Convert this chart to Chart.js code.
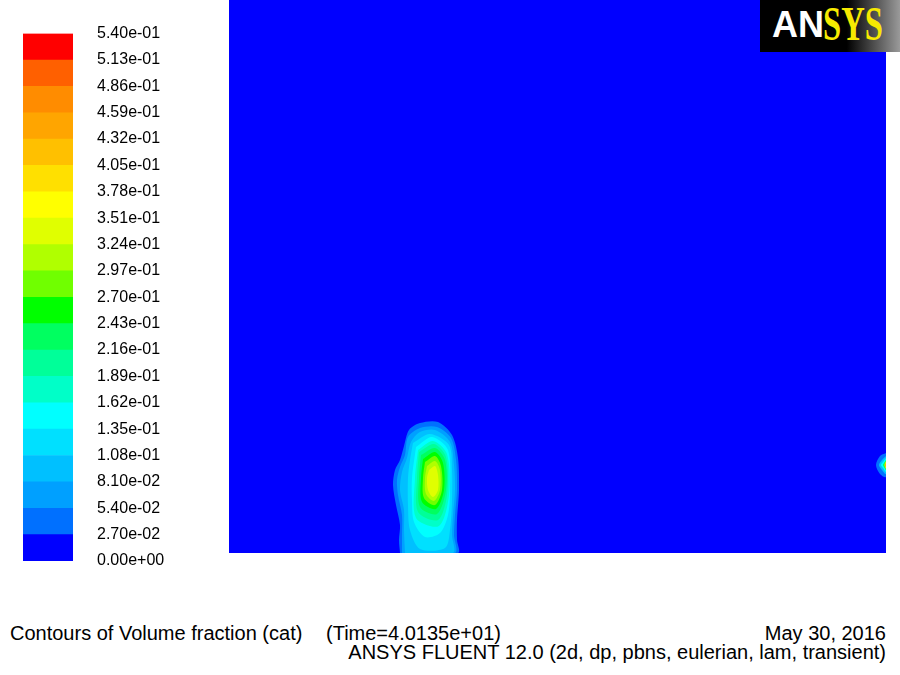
<!DOCTYPE html>
<html lang="en">
<head>
  <meta charset="UTF-8">
  <title>Contours of Volume fraction (cat)</title>
  <script src="https://cdn.jsdelivr.net/npm/chart.js"></script>
  <style>
    body { margin: 0; background: #fff; width: 900px; height: 675px; overflow: hidden; position: relative; font-family: "Liberation Sans", Arial, sans-serif; }
    #barraCores { position: absolute; left: 0; top: 0; }
    #campo { position: absolute; left: 229px; top: 0; }
    #logo { position: absolute; left: 760px; top: 0; width: 140px; height: 52px;
            background: linear-gradient(to right, #000 0%, #000 62%, #9a9a9a 100%); overflow: hidden; }
    #logo .an { position: absolute; left: 12px; top: 7px; font: bold 36px/36px "Liberation Sans", Arial, sans-serif; color: #fff; }
    #logo .sys { position: absolute; left: 63px; top: 0px; font: bold 48px/48px "Liberation Serif", serif; color: #f7ea00;
                 transform: scaleX(0.68); transform-origin: left top; }
    .rodape { position: absolute; font-size: 20px; line-height: 20px; color: #000; white-space: nowrap; }
  </style>
</head>
<body>

  <canvas id="barraCores" width="220" height="600"></canvas>
  <canvas id="campo" width="657" height="553"></canvas>

  <div id="logo"><span class="an">AN</span><span class="sys">SYS</span></div>

  <div class="rodape" style="left:10px; top:623px;">Contours of Volume fraction (cat)</div>
  <div class="rodape" style="left:326px; top:623px;">(Time=4.0135e+01)</div>
  <div class="rodape" style="right:14px; top:623px;">May 30, 2016</div>
  <div class="rodape" style="right:14px; top:642px;">ANSYS FLUENT 12.0 (2d, dp, pbns, eulerian, lam, transient)</div>

  <script>
    // contour levels (volume fraction) and their labels
    const levels = [0, 0.027, 0.054, 0.081, 0.108, 0.135, 0.162, 0.189, 0.216, 0.243, 0.27,
                    0.297, 0.324, 0.351, 0.378, 0.405, 0.432, 0.459, 0.486, 0.513, 0.54];
    const tickLabels = ['0.00e+00', '2.70e-02', '5.40e-02', '8.10e-02', '1.08e-01', '1.35e-01', '1.62e-01',
                        '1.89e-01', '2.16e-01', '2.43e-01', '2.70e-01', '2.97e-01', '3.24e-01', '3.51e-01',
                        '3.78e-01', '4.05e-01', '4.32e-01', '4.59e-01', '4.86e-01', '5.13e-01', '5.40e-01'];
    const bandColors = ['#0000ff', '#0070ff', '#00a0ff', '#00c0ff', '#00e0ff', '#00ffff', '#00ffc8',
                        '#00ff99', '#00ff60', '#00ff00', '#70ff00', '#b0ff00', '#e0ff00', '#ffff00',
                        '#ffe000', '#ffc000', '#ffa500', '#ff8c00', '#ff6000', '#ff0000'];

    // domain size (mm)
    const domainX = [0, 657];
    const domainY = [0, 553];
    const domain = [[0, 0], [657, 0], [657, 553], [0, 553]];

    // contour outlines of the cat plume (x, y in mm), one per level index
    const plume1 = [[171,0],[170,13],[171,28],[167,48],[164,68],[166,83],[171,93],[175,107],[180,123],[191,130],[209,131],[223,118],[229,95],[230,63],[228,33],[228,13],[229,0]];
    const plume2 = [[173,0],[173,18],[173,38],[169,58],[168,73],[171,86],[176,98],[179,116],[191,125],[208,126],[222,115],[227,93],[228,63],[226,38],[225,18],[226,0]];
    const plume3 = [[176,0],[175,23],[175,43],[171,63],[173,81],[178,95],[182,111],[191,121],[206,123],[221,111],[225,88],[226,63],[224,38],[223,18],[224,0]];
    const plume4 = [[184,110],[201,119],[220,108],[223,83],[223,53],[221,23],[216,5],[191,4],[181,23],[179,48],[179,75],[181,93]];
    const plume5 = [[187,106],[203,116],[219,103],[221,63],[219,38],[211,20],[196,16],[185,31],[183,53],[183,75]];
    const plume6 = [[189,103],[204,112],[218,99],[220,58],[210,27],[187,35],[186,75]];
    const plume7 = [[190,101],[205,109],[217,96],[218,58],[209,33],[189,41],[188,75]];
    const plume8 = [[192,98],[206,105],[216,93],[217,63],[208,39],[191,46],[190,75]];
    const plume9 = [[194,94],[206,101],[214,90],[215,63],[207,44],[193,51],[192,75]];
    const plume10 = [[196,91],[206,97],[212,87],[213,63],[206,48],[195,55],[194,75]];
    const plume11 = [[198,87],[206,92],[211,83],[211,63],[205,52],[197,59],[196,75]];
    const plume12 = [[200,83],[206,87],[209,78],[209,63],[204,56],[199,63],[198,75]];

    // small spot on the right wall
    const wall1 = [[657,100],[651,97],[647,88],[651,79],[657,76]];
    const wall3 = [[657,97],[653,93],[650,88],[653,83],[657,79]];
    const wall5 = [[657,95],[654,91],[652,88],[654,85],[657,81]];
    const wall8 = [[657,93],[655,90],[654,88],[655,86],[657,83]];
    const wall11 = [[657,92],[655.5,89],[655.5,87],[657,84]];
    const wall14 = [[657,91],[656,88],[657,85]];
    const wall17 = [[657,90],[656.5,88],[657,86]];

    const contourShapes = [domain, plume1, plume2, plume3, plume4, plume5, plume6, plume7, plume8, plume9,
                           plume10, plume11, plume12, wall1, wall3, wall5, wall8, wall11, wall14, wall17];
    const contourLevels = [0, 1, 2, 3, 4, 5, 6, 7, 8, 9, 10, 11, 12, 1, 3, 5, 8, 11, 14, 17];

    // colour bar: one floating bar per band
    new Chart(document.getElementById('barraCores'), {
      type: 'bar',
      data: {
        labels: ['cat'],
        datasets: bandColors.map((cor, i) => ({
          data: [[levels[i], levels[i + 1]]],
          backgroundColor: cor,
          borderWidth: 0,
          grouped: false,
          categoryPercentage: 1,
          barPercentage: 1
        }))
      },
      options: {
        responsive: false,
        animation: false,
        layout: { padding: { left: 23, right: 0, top: 30, bottom: 39 } },
        plugins: { legend: { display: false }, tooltip: { enabled: false } },
        scales: {
          x: { display: false },
          y: {
            position: 'right',
            min: levels[0],
            max: levels[levels.length - 1],
            grid: { display: false, drawTicks: false },
            border: { display: false },
            afterFit: s => { s.width = 147; },
            afterBuildTicks: s => { s.ticks = levels.map(v => ({ value: v })); },
            ticks: {
              autoSkip: false,
              padding: 24,
              color: '#000',
              font: { family: '"Liberation Sans", Arial, sans-serif', size: 16 },
              callback: (v, i) => tickLabels[i]
            }
          }
        }
      }
    });

    // contour field: each level drawn as a filled outline, higher levels on top
    new Chart(document.getElementById('campo'), {
      type: 'line',
      data: {
        datasets: contourShapes.map((forma, i) => ({
          data: forma.concat([forma[0]]).map(p => ({ x: p[0], y: p[1] })),
          backgroundColor: bandColors[contourLevels[i]],
          borderWidth: 0,
          pointRadius: 0,
          tension: 0.3,
          fill: 'shape',
          order: 100 - contourLevels[i]
        }))
      },
      options: {
        responsive: false,
        animation: false,
        layout: { padding: 0 },
        plugins: { legend: { display: false }, tooltip: { enabled: false } },
        scales: {
          x: { type: 'linear', display: false, min: domainX[0], max: domainX[1] },
          y: { type: 'linear', display: false, min: domainY[0], max: domainY[1] }
        }
      }
    });
  </script>
</body>
</html>
